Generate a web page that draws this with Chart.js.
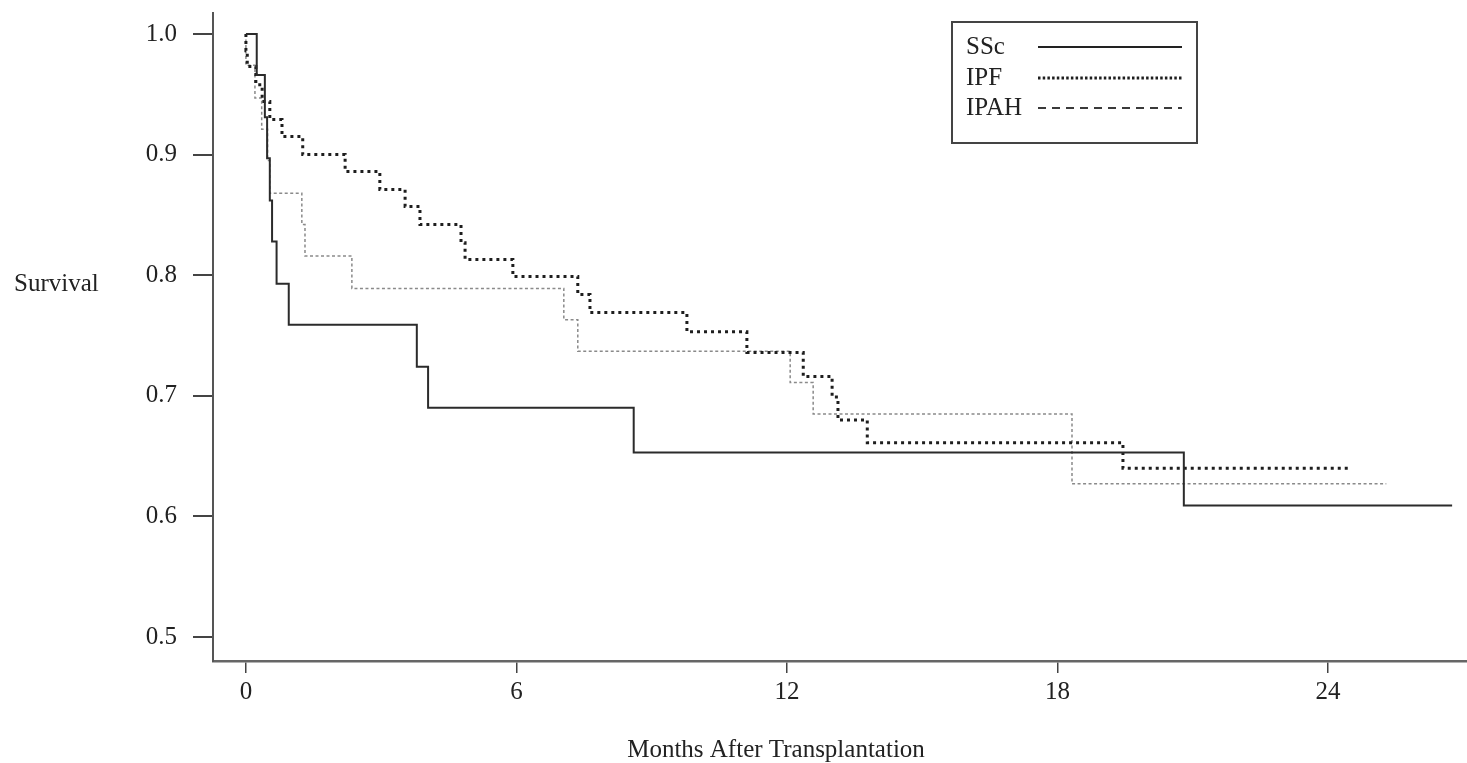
<!DOCTYPE html>
<html>
<head>
<meta charset="utf-8">
<script src="https://cdn.jsdelivr.net/npm/chart.js@4.4.1/dist/chart.umd.min.js"></script>
<style>
  html, body { margin: 0; padding: 0; background: #ffffff; }
  #wrap { width: 1467px; height: 763px; position: relative; }
</style>
</head>
<body>
<div id="wrap"><canvas id="c"></canvas></div>
<script>
// ---- data ----
const seriesNames = ['SSc', 'IPF', 'IPAH'];

const sscMonths = [0, 0.24, 0.42, 0.47, 0.53, 0.58, 0.68, 0.95, 3.79, 4.04, 8.6, 20.8, 26.75];
const sscSurvival = [1.0, 0.966, 0.931, 0.897, 0.862, 0.828, 0.793, 0.759, 0.724, 0.690, 0.653, 0.609, 0.609];

const ipfMonths = [0, 0, 0.03, 0.22, 0.36, 0.53, 0.8, 1.26, 2.2, 2.97, 3.53, 3.86, 4.77, 4.86, 5.92, 7.36, 7.63, 9.78, 11.11, 12.36, 13.0, 13.13, 13.78, 19.45, 24.49];
const ipfSurvival = [1.0, 0.986, 0.973, 0.958, 0.944, 0.929, 0.915, 0.900, 0.886, 0.871, 0.857, 0.842, 0.827, 0.813, 0.799, 0.784, 0.769, 0.753, 0.736, 0.716, 0.699, 0.680, 0.661, 0.640, 0.640];

const ipahMonths = [0, 0, 0.2, 0.35, 0.48, 0.53, 1.24, 1.31, 2.35, 7.05, 7.36, 12.07, 12.58, 18.32, 25.29];
const ipahSurvival = [1.0, 0.974, 0.947, 0.921, 0.895, 0.868, 0.842, 0.816, 0.789, 0.763, 0.737, 0.711, 0.685, 0.627, 0.627];

const xTickValues = [0, 6, 12, 18, 24];
const yTickValues = [0.5, 0.6, 0.7, 0.8, 0.9, 1.0];

const xAxisTitle = 'Months After Transplantation';
const yAxisTitle = 'Survival';

// ---- build ----
function pts(xs, ys) { return xs.map((x, i) => ({ x: x, y: ys[i] })); }

const FONT = "'Liberation Serif', 'Times New Roman', serif";
const FSIZE = 25;
const TEXT = '#222222';

const styles = [
  { color: '#2b2b2b', width: 2, dash: [], legendColor: '#222', legendDash: [], legendWidth: 2 },
  { color: '#1e1e1e', width: 3, dash: [3, 4], legendColor: '#1e1e1e', legendDash: [2.5, 2.2], legendWidth: 3 },
  { color: '#8a8a8a', width: 1.5, dash: [3, 2.5], legendColor: '#3a3a3a', legendDash: [8, 6], legendWidth: 2 }
];

const textPlugin = {
  id: 'texts',
  afterDraw(chart) {
    const ctx = chart.ctx;
    ctx.save();
    ctx.fillStyle = TEXT;
    ctx.font = FSIZE + 'px ' + FONT;
    // y axis title (horizontal)
    ctx.textAlign = 'left';
    ctx.textBaseline = 'middle';
    ctx.fillText(yAxisTitle, 14, 284);
    // x axis title
    ctx.textAlign = 'center';
    ctx.textBaseline = 'alphabetic';
    ctx.fillText(xAxisTitle, 776, 757);
    // legend box
    ctx.strokeStyle = '#444';
    ctx.lineWidth = 2;
    ctx.setLineDash([]);
    ctx.strokeRect(952, 22, 245, 121);
    const rows = [47, 78, 108];
    seriesNames.forEach((name, i) => {
      const st = styles[i];
      ctx.fillStyle = TEXT;
      ctx.textAlign = 'left';
      ctx.textBaseline = 'middle';
      ctx.fillText(name, 966, rows[i]);
      ctx.strokeStyle = st.legendColor;
      ctx.lineWidth = st.legendWidth;
      ctx.setLineDash(st.legendDash);
      ctx.beginPath();
      ctx.moveTo(1038, rows[i]);
      ctx.lineTo(1182, rows[i]);
      ctx.stroke();
    });
    ctx.restore();
  }
};

const datasets = [
  { label: seriesNames[0], data: pts(sscMonths, sscSurvival) },
  { label: seriesNames[1], data: pts(ipfMonths, ipfSurvival) },
  { label: seriesNames[2], data: pts(ipahMonths, ipahSurvival) }
].map((d, i) => Object.assign(d, {
  showLine: true,
  stepped: 'before',
  borderColor: styles[i].color,
  borderWidth: styles[i].width,
  borderDash: styles[i].dash,
  borderCapStyle: 'butt',
  pointRadius: 0,
  pointHoverRadius: 0,
  fill: false,
  clip: false
}));

new Chart(document.getElementById('c'), {
  type: 'scatter',
  data: { datasets: datasets },
  options: {
    responsive: true,
    maintainAspectRatio: false,
    animation: false,
    layout: { padding: { top: 13, left: 0, right: 0, bottom: 0 } },
    plugins: { legend: { display: false }, tooltip: { enabled: false } },
    scales: {
      x: {
        type: 'linear',
        min: -0.73,
        max: 27.08,
        border: { display: true, color: '#666', width: 2.5 },
        grid: { display: true, drawOnChartArea: false, drawTicks: true, tickLength: 12, tickColor: '#444', lineWidth: 1.5 },
        ticks: {
          color: TEXT,
          font: { family: FONT, size: FSIZE },
          padding: 4,
          maxRotation: 0,
          autoSkip: false,
          callback: (v) => String(v)
        },
        afterBuildTicks: (s) => { s.ticks = xTickValues.map(v => ({ value: v })); },
        afterFit: (s) => { s.height = 102; s.paddingLeft = 0; s.paddingRight = 0; }
      },
      y: {
        type: 'linear',
        min: 0.4801,
        max: 1.0174,
        border: { display: true, color: '#555', width: 2 },
        grid: { display: true, drawOnChartArea: false, drawTicks: true, tickLength: 20, tickColor: '#444', lineWidth: 2 },
        ticks: {
          color: TEXT,
          font: { family: FONT, size: FSIZE },
          padding: 16,
          autoSkip: false,
          callback: (v) => Number(v).toFixed(1)
        },
        afterBuildTicks: (s) => { s.ticks = yTickValues.map(v => ({ value: v })); },
        afterFit: (s) => { s.width = 213; s.paddingTop = 0; s.paddingBottom = 0; }
      }
    }
  },
  plugins: [textPlugin]
});
</script>
</body>
</html>
